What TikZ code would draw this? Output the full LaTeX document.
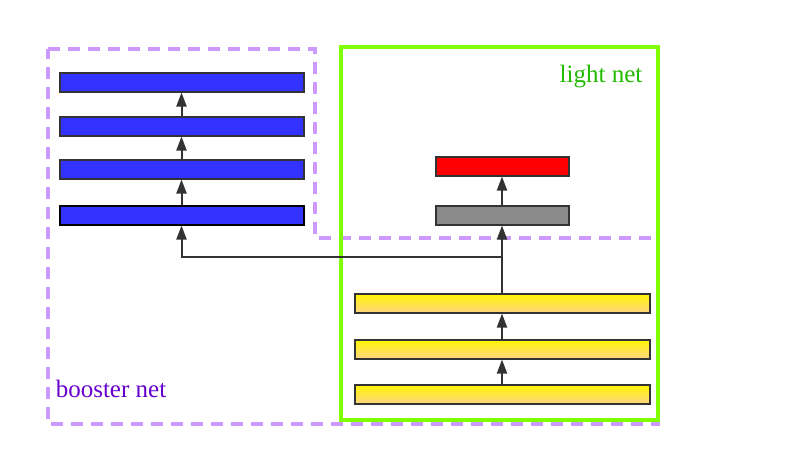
\documentclass[tikz,border=0pt]{standalone}
\usepackage{fontspec}
\setmainfont{Liberation Serif}
\usetikzlibrary{arrows.meta}
\definecolor{barblue}{HTML}{3333FF}
\definecolor{bargray}{HTML}{8A8A8A}
\definecolor{baryellow}{HTML}{FFF700}
\definecolor{barorange}{HTML}{FFD580}
\definecolor{edge}{HTML}{333333}
\definecolor{lightgreen}{HTML}{80FF00}
\definecolor{lightlabel}{HTML}{22BB00}
\definecolor{boostline}{HTML}{CC99FF}
\definecolor{boostlabel}{HTML}{6600CC}
\tikzset{
	bar/.style={draw=edge, line width=2pt, rectangle, inner sep=0pt, minimum height=19pt},
	bluebar/.style={bar, fill=barblue, minimum width=244pt},
	smallbar/.style={bar, minimum width=133pt},
	yellowbar/.style={bar, top color=baryellow, bottom color=barorange, minimum width=295pt},
	link/.style={draw=edge, line width=2pt, -{Triangle[width=10pt,length=14pt]}}
}
\begin{document}
\begin{tikzpicture}[x=1pt, y=-1pt]
	\useasboundingbox (0, 0) rectangle (793, 456);
	% groups
	\draw[boostline, line width=3.5pt, dash pattern=on 12pt off 8pt]
		(48, 49) -- (315, 49) -- (315, 238) -- (658, 238) -- (658, 424) -- (48, 424) -- cycle;
	\draw[lightgreen, line width=3.5pt] (341, 47) rectangle (658, 420);
	\node[lightlabel, font=\fontsize{25}{29}\selectfont] (lightlbl) at (601, 77) {light net};
	\node[boostlabel, font=\fontsize{25}{29}\selectfont] (boostlbl) at (111, 389) {booster net};
	% booster branch
	\node[bluebar] (blue4) at (181.5, 82) {};
	\node[bluebar] (blue3) at (181.5, 126) {};
	\node[bluebar] (blue2) at (181.5, 169) {};
	\node[bluebar, draw=black] (blue1) at (181.5, 215) {};
	% light branch
	\node[smallbar, fill=red] (red) at (502, 166) {};
	\node[smallbar, fill=bargray] (gray) at (502, 215) {};
	% shared layers
	\node[yellowbar] (yel3) at (502, 303) {};
	\node[yellowbar] (yel2) at (502, 349) {};
	\node[yellowbar] (yel1) at (502, 394) {};
	\coordinate (split) at (502, 257);
	% connections
	\draw[link] (blue1) -- (blue2);
	\draw[link] (blue2) -- (blue3);
	\draw[link] (blue3) -- (blue4);
	\draw[link] (gray) -- (red);
	\draw[link] (yel1) -- (yel2);
	\draw[link] (yel2) -- (yel3);
	\draw[link] (yel3) -- (gray);
	\draw[link] (split) -| (blue1);
\end{tikzpicture}
\end{document}
